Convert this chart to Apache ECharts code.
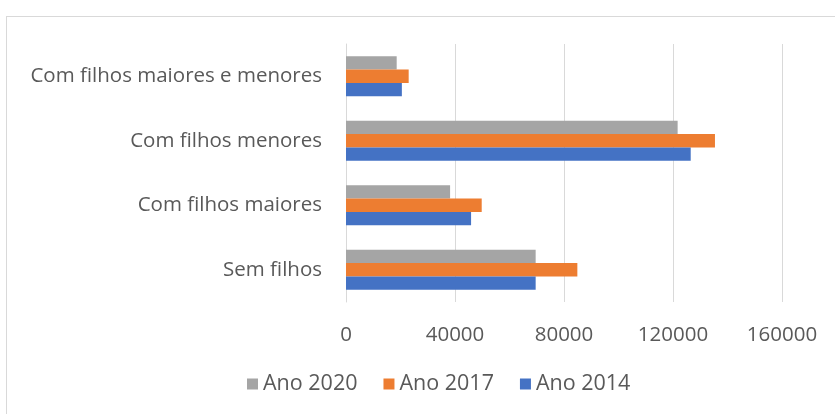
<!DOCTYPE html>
<html>
<head>
<meta charset="utf-8">
<script src="https://cdn.jsdelivr.net/npm/echarts@6/dist/echarts.min.js"></script>
<style>
  html, body { margin: 0; padding: 0; background: #fff; }
  #frame { position: absolute; left: 6px; top: 16px; width: 840px; height: 410px; border: 1px solid #d9d9d9; box-sizing: border-box; }
  #main { position: absolute; left: 0; top: 0; width: 835px; height: 414px; }
</style>
</head>
<body>
<div id="frame"></div>
<div id="main"></div>
<script>
// categories bottom -> top
var categories = ['Sem filhos', 'Com filhos maiores', 'Com filhos menores', 'Com filhos maiores e menores'];
var ano2014 = [69600, 45900, 126500, 20500];
var ano2017 = [84900, 49800, 135400, 23000];
var ano2020 = [69600, 38200, 121700, 18600];
var xTicks = [0, 40000, 80000, 120000, 160000];

var chart = echarts.init(document.getElementById('main'));
var fontName = 'Open Sans';
option = {
    animation: false,
    color: ['#a5a5a5', '#ed7d31', '#4472c4'],
    legend: {
        data: ['Ano 2020', 'Ano 2017', 'Ano 2014'],
        bottom: 14,
        left: 242,
        icon: 'rect',
        itemWidth: 11,
        itemHeight: 11,
        itemGap: 26,
        textStyle: { color: '#595959', fontSize: 21.5, fontFamily: fontName }
    },
    grid: { left: 346, right: 53, top: 44, bottom: 112 },
    xAxis: {
        type: 'value',
        min: xTicks[0],
        max: xTicks[xTicks.length - 1],
        interval: 40000,
        axisLine: { show: false },
        axisTick: { show: false },
        splitLine: { lineStyle: { color: '#d9d9d9', width: 1 } },
        axisLabel: { color: '#595959', fontSize: 20.5, fontFamily: fontName, margin: 23,
            formatter: function (v) { return String(v); } }
    },
    yAxis: {
        type: 'category',
        data: categories,
        axisLine: { show: true, lineStyle: { color: '#d9d9d9' } },
        axisTick: { show: false },
        axisLabel: { color: '#595959', fontSize: 20.5, fontFamily: fontName, margin: 24 }
    },
    series: [
        { name: 'Ano 2020', type: 'bar', data: ano2020, barWidth: 13.3, barGap: '0%', barCategoryGap: '38%' },
        { name: 'Ano 2017', type: 'bar', data: ano2017, barWidth: 13.3, barGap: '0%' },
        { name: 'Ano 2014', type: 'bar', data: ano2014, barWidth: 13.3, barGap: '0%' }
    ]
};
chart.setOption(option);
</script>
</body>
</html>
